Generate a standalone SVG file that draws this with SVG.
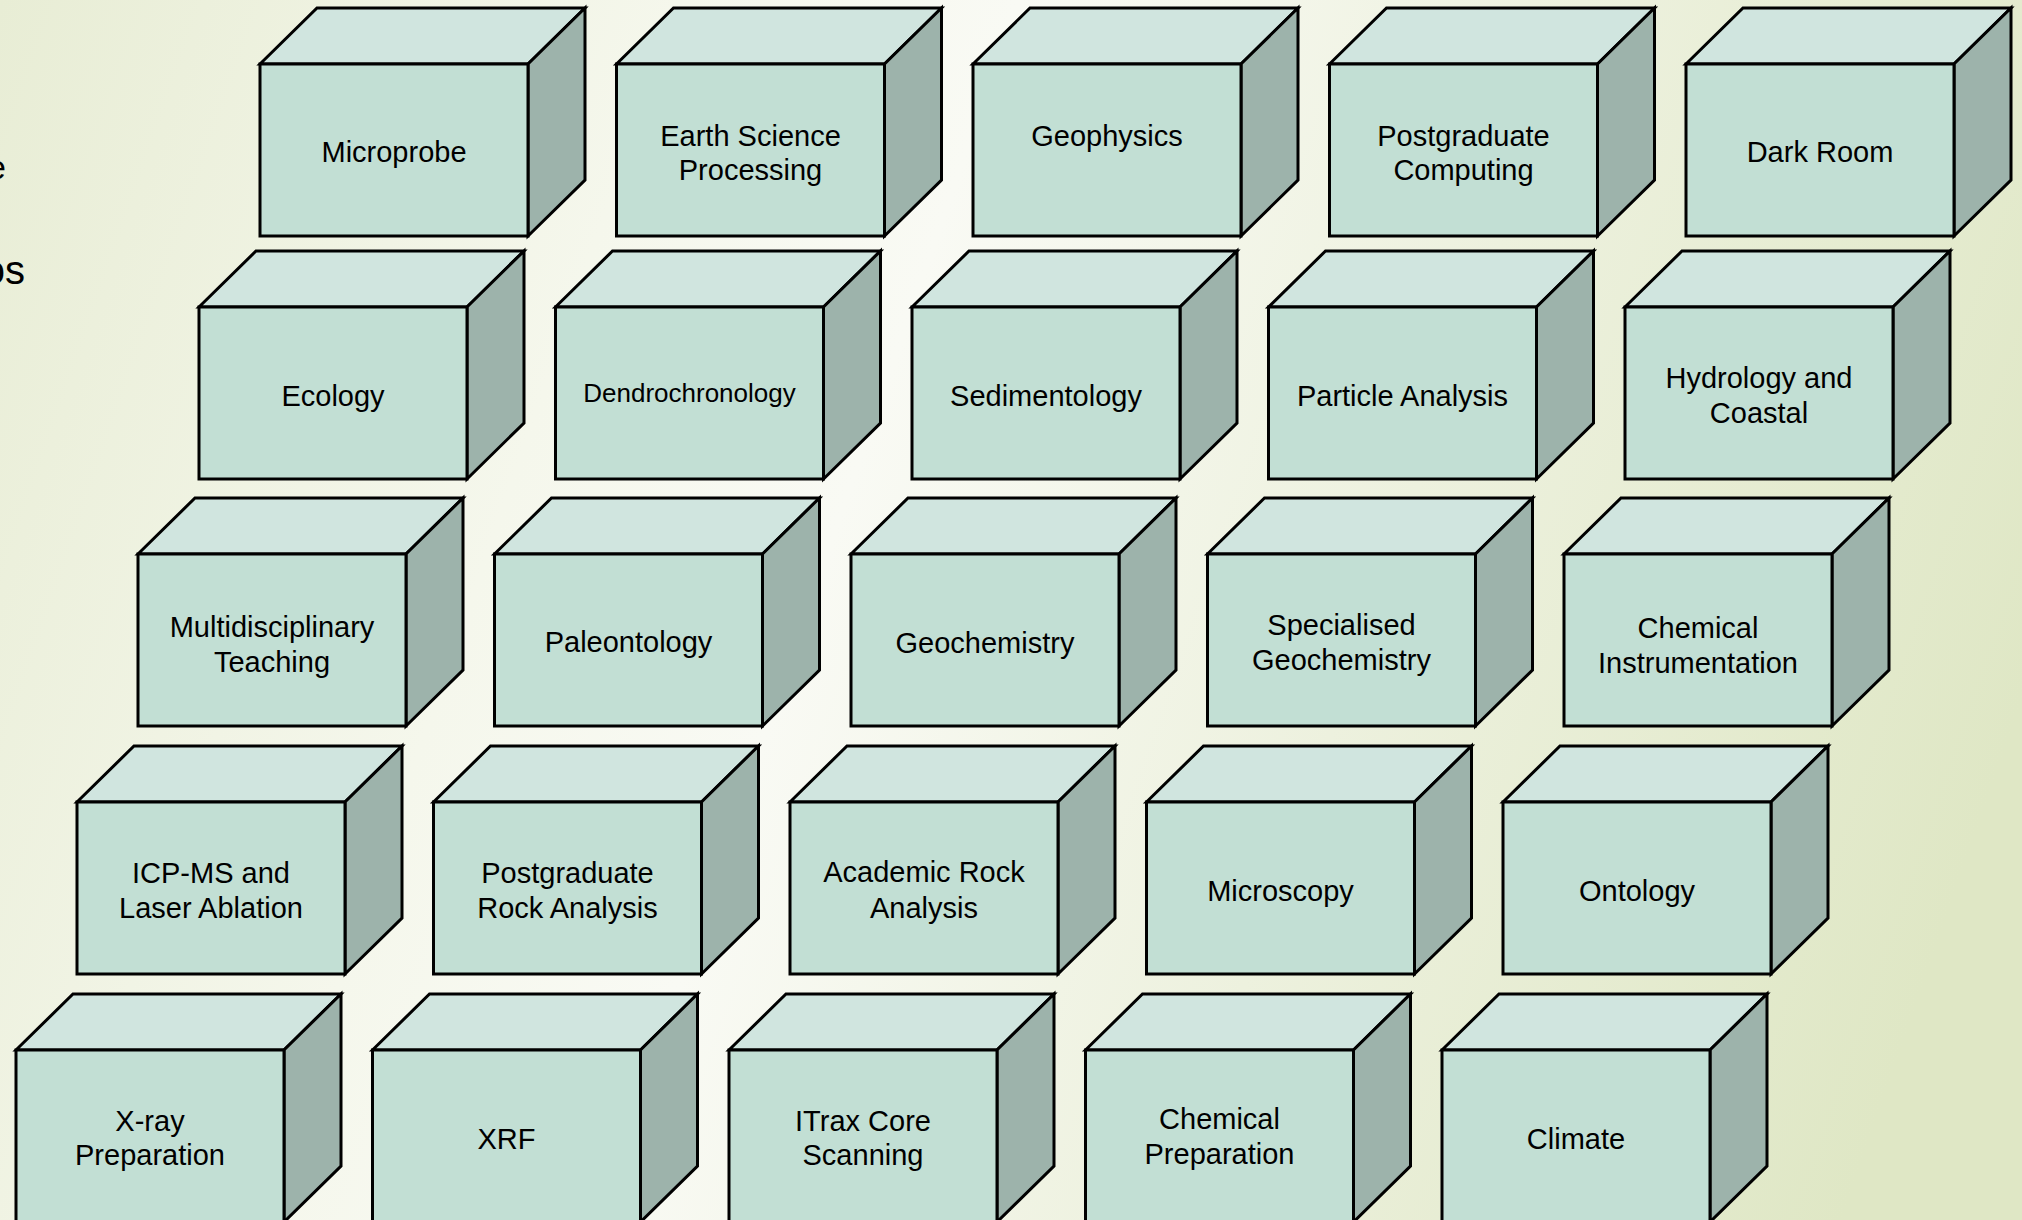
<svg xmlns="http://www.w3.org/2000/svg" xmlns:xlink="http://www.w3.org/1999/xlink" width="2022" height="1220" viewBox="0 0 2022 1220">
<defs>
<linearGradient id="bg" gradientUnits="userSpaceOnUse" x1="0" y1="0" x2="2022" y2="700">
<stop offset="0" stop-color="#E8EDD5"/>
<stop offset="0.3" stop-color="#F5F7EC"/>
<stop offset="0.45" stop-color="#F9FAF4"/>
<stop offset="0.7" stop-color="#EDF1DE"/>
<stop offset="1" stop-color="#DFE7C5"/>
</linearGradient>
<g id="cube">
<polygon class="top" points="0,0 57,-56 325,-56 268,0"/>
<polygon class="side" points="268,0 325,-56 325,116 268,172"/>
<rect class="front" x="0" y="0" width="268" height="172"/>
</g>
</defs>
<style>
.top{fill:#D0E5DF;stroke:#000;stroke-width:3;stroke-linejoin:miter}
.side{fill:#9DB3AB;stroke:#000;stroke-width:3;stroke-linejoin:miter}
.front{fill:#C2DFD4;stroke:#000;stroke-width:3;stroke-linejoin:miter}
.lbl{font-family:"Liberation Sans",Arial,sans-serif;font-size:29px;fill:#000;text-anchor:middle}
.sm{font-size:26px}
.bgt{font-family:"Liberation Sans",Arial,sans-serif;fill:#000;text-anchor:end}
</style>
<rect x="0" y="0" width="2022" height="1220" fill="url(#bg)"/>
<text class="bgt" x="6" y="179" font-size="34">e</text>
<text class="bgt" x="25" y="284" font-size="40">os</text>
<g id="connectors"/>
<g id="n-microprobe"><use xlink:href="#cube" x="260" y="64"/><text class="lbl" x="394" y="162">Microprobe</text></g>
<g id="n-earth-science"><use xlink:href="#cube" x="616.5" y="64"/><text class="lbl" x="750.5" y="145.5">Earth Science</text><text class="lbl" x="750.5" y="180">Processing</text></g>
<g id="n-geophysics"><use xlink:href="#cube" x="973" y="64"/><text class="lbl" x="1107" y="145.5">Geophysics</text></g>
<g id="n-pg-computing"><use xlink:href="#cube" x="1329.5" y="64"/><text class="lbl" x="1463.5" y="145.5">Postgraduate</text><text class="lbl" x="1463.5" y="180">Computing</text></g>
<g id="n-dark-room"><use xlink:href="#cube" x="1686" y="64"/><text class="lbl" x="1820" y="162">Dark Room</text></g>

<g id="n-ecology"><use xlink:href="#cube" x="199" y="307"/><text class="lbl" x="333" y="406">Ecology</text></g>
<g id="n-dendro"><use xlink:href="#cube" x="555.5" y="307"/><text class="lbl sm" x="689.5" y="402">Dendrochronology</text></g>
<g id="n-sedimentology"><use xlink:href="#cube" x="912" y="307"/><text class="lbl" x="1046" y="406">Sedimentology</text></g>
<g id="n-particle"><use xlink:href="#cube" x="1268.5" y="307"/><text class="lbl" x="1402.5" y="406">Particle Analysis</text></g>
<g id="n-hydrology"><use xlink:href="#cube" x="1625" y="307"/><text class="lbl" x="1759" y="388">Hydrology and</text><text class="lbl" x="1759" y="423">Coastal</text></g>

<g id="n-multi"><use xlink:href="#cube" x="138" y="554"/><text class="lbl" x="272" y="637">Multidisciplinary</text><text class="lbl" x="272" y="671.5">Teaching</text></g>
<g id="n-paleontology"><use xlink:href="#cube" x="494.5" y="554"/><text class="lbl" x="628.5" y="652">Paleontology</text></g>
<g id="n-geochemistry"><use xlink:href="#cube" x="851" y="554"/><text class="lbl" x="985" y="653">Geochemistry</text></g>
<g id="n-spec-geochem"><use xlink:href="#cube" x="1207.5" y="554"/><text class="lbl" x="1341.5" y="635">Specialised</text><text class="lbl" x="1341.5" y="670">Geochemistry</text></g>
<g id="n-chem-instr"><use xlink:href="#cube" x="1564" y="554"/><text class="lbl" x="1698" y="638">Chemical</text><text class="lbl" x="1698" y="673">Instrumentation</text></g>

<g id="n-icpms"><use xlink:href="#cube" x="77" y="802"/><text class="lbl" x="211" y="883">ICP-MS and</text><text class="lbl" x="211" y="918">Laser Ablation</text></g>
<g id="n-pg-rock"><use xlink:href="#cube" x="433.5" y="802"/><text class="lbl" x="567.5" y="883">Postgraduate</text><text class="lbl" x="567.5" y="918">Rock Analysis</text></g>
<g id="n-acad-rock"><use xlink:href="#cube" x="790" y="802"/><text class="lbl" x="924" y="882">Academic Rock</text><text class="lbl" x="924" y="918">Analysis</text></g>
<g id="n-microscopy"><use xlink:href="#cube" x="1146.5" y="802"/><text class="lbl" x="1280.5" y="901">Microscopy</text></g>
<g id="n-ontology"><use xlink:href="#cube" x="1503" y="802"/><text class="lbl" x="1637" y="901">Ontology</text></g>

<g id="n-xray"><use xlink:href="#cube" x="16" y="1050"/><text class="lbl" x="150" y="1131">X-ray</text><text class="lbl" x="150" y="1165">Preparation</text></g>
<g id="n-xrf"><use xlink:href="#cube" x="372.5" y="1050"/><text class="lbl" x="506.5" y="1149">XRF</text></g>
<g id="n-itrax"><use xlink:href="#cube" x="729" y="1050"/><text class="lbl" x="863" y="1131">ITrax Core</text><text class="lbl" x="863" y="1165">Scanning</text></g>
<g id="n-chem-prep"><use xlink:href="#cube" x="1085.5" y="1050"/><text class="lbl" x="1219.5" y="1129">Chemical</text><text class="lbl" x="1219.5" y="1164">Preparation</text></g>
<g id="n-climate"><use xlink:href="#cube" x="1442" y="1050"/><text class="lbl" x="1576" y="1149">Climate</text></g>
</svg>
